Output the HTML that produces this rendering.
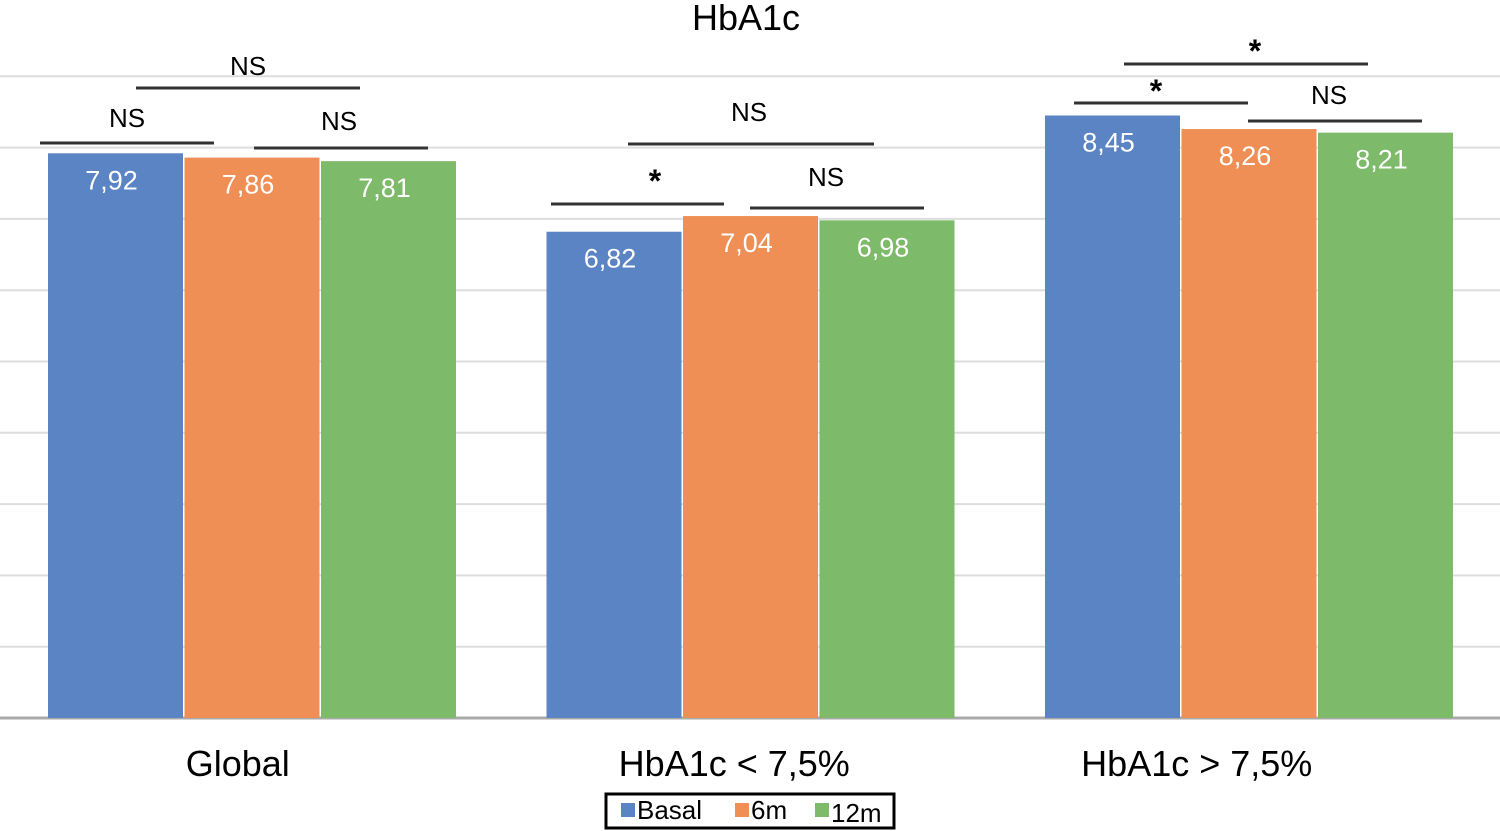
<!DOCTYPE html>
<html><head><meta charset="utf-8"><style>
html,body{margin:0;padding:0;background:#fff;}
svg{display:block;font-family:"Liberation Sans",Arial,sans-serif;}
</style></head><body>
<svg id="chart" width="1500" height="831" viewBox="0 0 1500 831">
<text x="746" y="30" text-anchor="middle" font-size="36" fill="#000">HbA1c</text>
<g id="grid"></g><g id="bars"></g><g id="labels"></g>
<g id="annot" stroke="#333" stroke-width="3">
<line x1="136" y1="88" x2="360" y2="88"/><line x1="40" y1="143" x2="214" y2="143"/><line x1="254" y1="148" x2="428" y2="148"/>
<line x1="628" y1="144" x2="874" y2="144"/><line x1="551" y1="204" x2="724" y2="204"/><line x1="750" y1="208" x2="924" y2="208"/>
<line x1="1124" y1="64" x2="1368" y2="64"/><line x1="1074" y1="103" x2="1248" y2="103"/><line x1="1248" y1="121" x2="1422" y2="121"/>
</g>
<g font-size="26" fill="#000" text-anchor="middle">
<text x="248" y="75">NS</text><text x="127" y="127">NS</text><text x="339" y="130">NS</text>
<text x="749" y="121">NS</text><text x="826" y="186">NS</text><text x="1329" y="104">NS</text>
<text x="655" y="192" font-size="32" font-weight="bold">*</text>
<text x="1255" y="62" font-size="32" font-weight="bold">*</text><text x="1156" y="102" font-size="32" font-weight="bold">*</text>
</g>
<g>
<rect x="606" y="794" width="288" height="34" fill="#fff" stroke="#000" stroke-width="3"/>
<rect x="621" y="803" width="14" height="14" fill="#5b84c4"/><text x="637" y="819" font-size="26">Basal</text>
<rect x="735" y="803" width="14" height="14" fill="#ef8f55"/><text x="751" y="819" font-size="26">6m</text>
<rect x="815" y="803" width="14" height="14" fill="#7dba6a"/><text x="831" y="822" font-size="26">12m</text>
</g>
</svg>
<script>
const categories=["Global","HbA1c < 7,5%","HbA1c > 7,5%"];
const seriesNames=["Basal","6m","12m"];
const basal=[7.92,6.82,8.45];
const m6=[7.86,7.04,8.26];
const m12=[7.81,6.98,8.21];
const gridTicks=[0,1,2,3,4,5,6,7,8,9];
const colors=["#5b84c4","#ef8f55","#7dba6a"];
const NS="http://www.w3.org/2000/svg";
const y0=718,unit=71.3;
const y=v=>y0-v*unit;
const groupX=i=>48+i*498.5;
const barW=135,barStep=136.5;
const labelShift=[-15,-17,-53];
const grid=document.getElementById('grid'),bars=document.getElementById('bars'),labels=document.getElementById('labels');
gridTicks.forEach(t=>{const l=document.createElementNS(NS,'line');


l.setAttribute('x1',0);l.setAttribute('x2',1500);l.setAttribute('y1',y(t));l.setAttribute('y2',y(t));
l.setAttribute('stroke',t===0?'#aaa':'#ddd');l.setAttribute('stroke-width',t===0?3:2);grid.appendChild(l);});
[basal,m6,m12].forEach((s,si)=>{s.forEach((v,ci)=>{
const x=groupX(ci)+si*barStep;
const r=document.createElementNS(NS,'rect');


r.setAttribute('x',x);r.setAttribute('y',y(v));r.setAttribute('width',barW);r.setAttribute('height',y0-y(v));r.setAttribute('fill',colors[si]);bars.appendChild(r);
const t=document.createElementNS(NS,'text');


t.setAttribute('x',x+barW/2-4);t.setAttribute('y',y(v)+36);t.setAttribute('text-anchor','middle');t.setAttribute('font-size','27');t.setAttribute('fill','#fff');
t.textContent=v.toFixed(2).replace('.',',');labels.appendChild(t);});});
categories.forEach((c,ci)=>{const t=document.createElementNS(NS,'text');


t.setAttribute('x',groupX(ci)+barStep*1.5+labelShift[ci]);t.setAttribute('y',776);t.setAttribute('text-anchor','middle');t.setAttribute('font-size','36');
t.textContent=c;labels.appendChild(t);});
</script>
</body></html>
